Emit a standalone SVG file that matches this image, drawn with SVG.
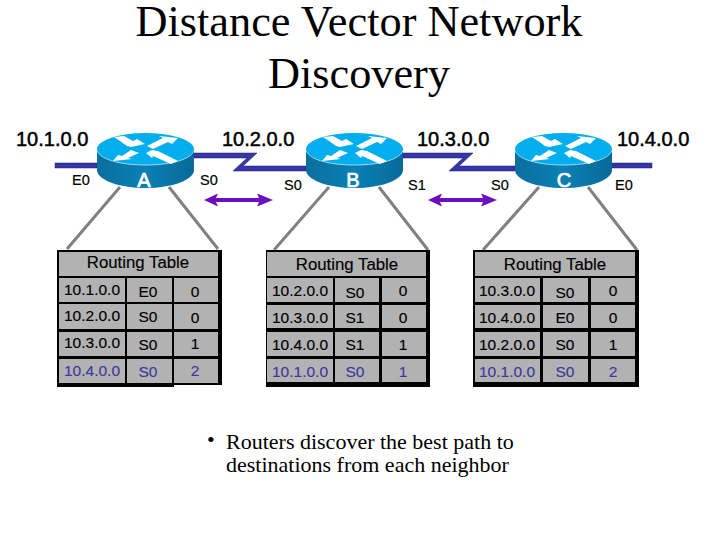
<svg xmlns="http://www.w3.org/2000/svg" xmlns:xlink="http://www.w3.org/1999/xlink" width="720" height="540" viewBox="0 0 720 540">
<style>
text{font-family:"Liberation Sans",Arial,sans-serif;fill:#000}
.title{font-family:"Liberation Serif","Times New Roman",serif;font-size:44.300px;text-anchor:middle}
.net{font-size:20px;stroke:#000;stroke-width:.5px}
.if{font-size:14.500px;stroke:#000;stroke-width:.2px}
.rl{font-size:20px;fill:#fff;text-anchor:middle;stroke:#fff;stroke-width:.7px}
.th{font-size:16.800px;text-anchor:middle;stroke:#000;stroke-width:.15px}
.t{font-size:15.500px;stroke:#000;stroke-width:.15px}
.c{text-anchor:middle}
.b{fill:#3a3aa0;stroke:#3a3aa0}
.body{font-family:"Liberation Serif","Times New Roman",serif;font-size:22px}
.cell{fill:#b2b2b2}
.link{fill:#3636a8;stroke:#1a1a70;stroke-width:.5}
.leader{stroke:#808080;stroke-width:3;fill:none}
.dbl{fill:#6a10c0}
</style>
<defs>
<linearGradient id="side" x1="0" x2="1" y1="0" y2="0"><stop offset="0" stop-color="#0a6f9e"/><stop offset=".5" stop-color="#0a80b4"/><stop offset="1" stop-color="#086a98"/></linearGradient>
<g id="router">
<path d="M97 149V170C97 180 119 188 145.500 188S194 180 194 170V149Z" fill="url(#side)"/>
<ellipse cx="145.500" cy="149" rx="48.500" ry="16" fill="#02aeee"/>
<path d="M97 150C99 159 119 165 145.500 165S192 159 194 150" fill="none" stroke="#9fdcf2" stroke-width="1"/>
<path d="M114 137L124 136L133 141L137 139L145 144L131 147L127 146L120 141Z" fill="#fff"/>
<path d="M147 146L163 138L159 136L178 138L172 144L168 142L153 149Z" fill="#fff"/>
<path d="M113 161L118 155L122 156L131 150L139 153L128 158L132 159Z" fill="#fff"/>
<path d="M146 153L152 150L158 151L178 161L171 164L153 156L152 158Z" fill="#fff"/>
</g>
<g id="arrow2"><path class="dbl" d="M0 0L14 -6.500L12 -2H55L53 -6.500L69 0L53 6.500L55 2H12L14 6.500Z"/></g>
</defs>

<g id="title">
<text class="title" x="359" y="36">Distance Vector Network</text>
<text class="title" x="359" y="88">Discovery</text>
</g>

<g id="connectors">
<path class="link" d="M55 163H97V168H55Z"/>
<path class="link" d="M194 153H257L243 166H306V171H233L247 158H194Z"/>
<path class="link" d="M403 153H473L459 166H515V171H449L463 158H403Z"/>
<path class="link" d="M612 163H652V168H612Z"/>
<path class="leader" d="M120 187L67 249M169 187L218 249M329 187L274 250M379 187L428 250M539 187L483 250M588 187L637 250"/>
<use xlink:href="#arrow2" href="#arrow2" x="204" y="200"/>
<use xlink:href="#arrow2" href="#arrow2" x="428" y="200"/>
</g>

<g id="net-labels">
<text class="net" x="16" y="146">10.1.0.0</text>
<text class="net" x="222" y="146">10.2.0.0</text>
<text class="net" x="417" y="146">10.3.0.0</text>
<text class="net" x="617" y="146">10.4.0.0</text>
</g>

<g id="router-a"><use xlink:href="#router" href="#router"/><text class="rl" x="144" y="187">A</text></g>
<g id="router-b"><use xlink:href="#router" href="#router" x="209"/><text class="rl" x="353" y="187">B</text></g>
<g id="router-c"><use xlink:href="#router" href="#router" x="418"/><text class="rl" x="564" y="187">C</text></g>

<g id="interfaces">
<text class="if" x="72" y="185">E0</text>
<text class="if" x="200" y="185">S0</text>
<text class="if" x="284" y="190">S0</text>
<text class="if" x="408" y="190">S1</text>
<text class="if" x="491" y="190">S0</text>
<text class="if" x="615" y="190">E0</text>
</g>

<g id="table-a">
<path d="M57 250H222V385H174V387H57Z" fill="#000"/>
<rect class="cell" x="59" y="252" width="159" height="24"/>
<rect class="cell" x="59" y="278" width="66" height="24"/><rect class="cell" x="127" y="278" width="45" height="24"/><rect class="cell" x="174" y="278" width="44" height="24"/>
<rect class="cell" x="59" y="304" width="66" height="25"/><rect class="cell" x="127" y="304" width="45" height="25"/><rect class="cell" x="174" y="304" width="44" height="25"/>
<rect class="cell" x="59" y="332" width="66" height="24"/><rect class="cell" x="127" y="332" width="45" height="24"/><rect class="cell" x="174" y="332" width="44" height="24"/>
<rect class="cell" x="59" y="359" width="66" height="24"/><rect class="cell" x="127" y="359" width="45" height="24"/><rect class="cell" x="174" y="359" width="44" height="24"/>
<text class="th" x="138" y="268">Routing Table</text>
<text class="t" x="64" y="295">10.1.0.0</text><text class="t c" x="148" y="297">E0</text><text class="t c" x="195" y="297">0</text>
<text class="t" x="64" y="321">10.2.0.0</text><text class="t c" x="148" y="322">S0</text><text class="t c" x="195" y="323">0</text>
<text class="t" x="64" y="348">10.3.0.0</text><text class="t c" x="148" y="350">S0</text><text class="t c" x="195" y="349">1</text>
<text class="t b" x="64" y="376">10.4.0.0</text><text class="t b c" x="148" y="377">S0</text><text class="t b c" x="195" y="376">2</text>
</g>

<g id="table-b">
<path d="M266 250H430V387H266Z" fill="#000"/>
<rect class="cell" x="267" y="252" width="159" height="24"/>
<rect class="cell" x="267" y="278" width="66" height="24"/><rect class="cell" x="335" y="278" width="44" height="24"/><rect class="cell" x="382" y="278" width="44" height="24"/>
<rect class="cell" x="267" y="305" width="66" height="23"/><rect class="cell" x="335" y="305" width="44" height="23"/><rect class="cell" x="382" y="305" width="44" height="23"/>
<rect class="cell" x="267" y="332" width="66" height="24"/><rect class="cell" x="335" y="332" width="44" height="24"/><rect class="cell" x="382" y="332" width="44" height="24"/>
<rect class="cell" x="267" y="359" width="66" height="23"/><rect class="cell" x="335" y="359" width="44" height="23"/><rect class="cell" x="382" y="359" width="44" height="23"/>
<text class="th" x="347" y="270">Routing Table</text>
<text class="t" x="272" y="296">10.2.0.0</text><text class="t c" x="355" y="298">S0</text><text class="t c" x="403" y="296">0</text>
<text class="t" x="272" y="323">10.3.0.0</text><text class="t c" x="355" y="323">S1</text><text class="t c" x="403" y="323">0</text>
<text class="t" x="272" y="350">10.4.0.0</text><text class="t c" x="355" y="350">S1</text><text class="t c" x="403" y="350">1</text>
<text class="t b" x="272" y="377">10.1.0.0</text><text class="t b c" x="355" y="377">S0</text><text class="t b c" x="403" y="377">1</text>
</g>

<g id="table-c">
<path d="M473 250H639V387H473Z" fill="#000"/>
<rect class="cell" x="475" y="252" width="160" height="24"/>
<rect class="cell" x="475" y="278" width="65" height="24"/><rect class="cell" x="543" y="278" width="45" height="24"/><rect class="cell" x="591" y="278" width="44" height="24"/>
<rect class="cell" x="475" y="305" width="65" height="23"/><rect class="cell" x="543" y="305" width="45" height="23"/><rect class="cell" x="591" y="305" width="44" height="23"/>
<rect class="cell" x="475" y="332" width="65" height="24"/><rect class="cell" x="543" y="332" width="45" height="24"/><rect class="cell" x="591" y="332" width="44" height="24"/>
<rect class="cell" x="475" y="359" width="65" height="23"/><rect class="cell" x="543" y="359" width="45" height="23"/><rect class="cell" x="591" y="359" width="44" height="23"/>
<text class="th" x="555" y="270">Routing Table</text>
<text class="t" x="479" y="296">10.3.0.0</text><text class="t c" x="565" y="298">S0</text><text class="t c" x="613" y="296">0</text>
<text class="t" x="479" y="323">10.4.0.0</text><text class="t c" x="565" y="323">E0</text><text class="t c" x="613" y="323">0</text>
<text class="t" x="479" y="350">10.2.0.0</text><text class="t c" x="565" y="350">S0</text><text class="t c" x="613" y="350">1</text>
<text class="t b" x="479" y="377">10.1.0.0</text><text class="t b c" x="565" y="377">S0</text><text class="t b c" x="613" y="377">2</text>
</g>

<g id="note">
<text class="body" x="207" y="447">•</text>
<text class="body" x="226" y="449">Routers discover the best path to</text>
<text class="body" x="226" y="472">destinations from each neighbor</text>
</g>
</svg>
